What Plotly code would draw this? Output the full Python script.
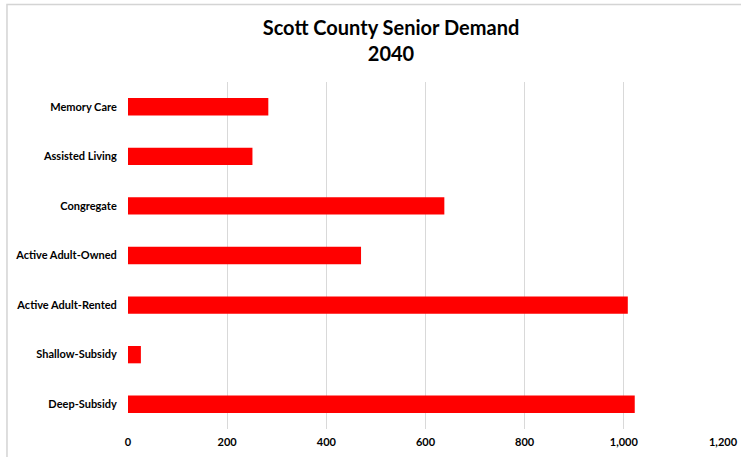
import plotly.graph_objects as go

categories = ["Memory Care", "Assisted Living", "Congregate", "Active Adult-Owned",
              "Active Adult-Rented", "Shallow-Subsidy", "Deep-Subsidy"]
values = [283, 251, 638, 470, 1008, 26, 1022]
x_ticks = [0, 200, 400, 600, 800, 1000, 1200]
x_tick_labels = ["0", "200", "400", "600", "800", "1,000", "1,200"]

FONT = "Lato"

fig = go.Figure(go.Bar(
    x=values, y=categories, orientation="h",
    marker=dict(color="#ff0000", line=dict(width=0)),
    hoverinfo="x+y",
))

fig.update_layout(
    width=741, height=457,
    autosize=False,
    margin=dict(l=128, r=18, t=82, b=28, autoexpand=False),
    paper_bgcolor="white", plot_bgcolor="white",
    bargap=0.65,
    showlegend=False,
    title=dict(
        text="<b>Scott County Senior Demand</b><br><b>2040</b>",
        x=391 / 741, xref="container", xanchor="center",
        y=1 - 35 / 457, yref="container", yanchor="top",
        font=dict(family=FONT, size=20, color="#000000"),
        automargin=False,
    ),
    font=dict(family=FONT, color="#000000"),
    xaxis=dict(
        range=[0, 1200], tickvals=x_ticks, ticktext=x_tick_labels,
        showgrid=True, gridcolor="#d9d9d9", gridwidth=1,
        zeroline=False, showline=False, automargin=False,
        ticks="", ticklabelstandoff=5,
        tickfont=dict(family=FONT, size=11, color="#000000", weight="bold"),
    ),
    yaxis=dict(
        categoryorder="array", categoryarray=categories[::-1],
        showgrid=False, zeroline=False, showline=False, automargin=False,
        ticks="outside", ticklen=8, tickcolor="rgba(0,0,0,0)",
        tickfont=dict(family=FONT, size=11, color="#000000", weight="bold"),
    ),
    shapes=[dict(
        type="rect", xref="paper", yref="paper",
        x0=-0.2034, x1=1.06, y0=-0.15, y1=(82 - 4.5) / 347 + 1,
        line=dict(color="#d4d4d4", width=1.5), fillcolor="rgba(0,0,0,0)",
        layer="above",
    )],
)

fig.write_html(
    "out.html",
    config={"displayModeBar": False, "responsive": False},
    post_script="document.body.style.margin='0';",
)
